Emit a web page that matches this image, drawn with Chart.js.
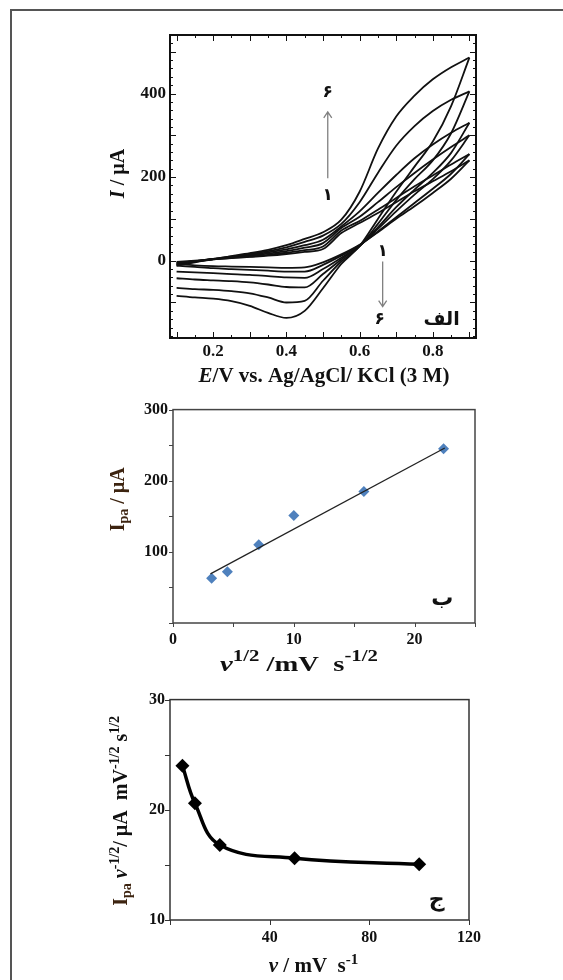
<!DOCTYPE html>
<html>
<head>
<meta charset="utf-8">
<script src="https://cdn.jsdelivr.net/npm/chart.js@4.4.0/dist/chart.umd.min.js"></script>
<style>
  html, body { margin: 0; padding: 0; background: #fff; width: 563px; height: 980px; overflow: hidden; }
  .frame { position: absolute; left: 10px; top: 9px; width: 600px; height: 1000px; border-top: 2px solid #555; border-left: 2px solid #555; }
  canvas { position: absolute; left: 0; }
</style>
</head>
<body>
<div class="frame"></div>
<canvas id="cv" width="563" height="395" style="top:0"></canvas>
<canvas id="lin" width="563" height="290" style="top:395px"></canvas>
<canvas id="norm" width="563" height="295" style="top:685px"></canvas>
<script>
const SERIF = '"Liberation Serif", "Times New Roman", serif';
const ARABIC = '"DejaVu Sans", "Noto Sans", sans-serif';

// الف - cyclic voltammograms 1..6, each branch read on the same potential grid
const potentials = [0.1, 0.15, 0.2, 0.25, 0.3, 0.35, 0.4, 0.45, 0.5, 0.55, 0.6, 0.65, 0.7, 0.75, 0.8, 0.85, 0.9];
const forwardScans = [
  [-3, 0, 3, 6, 9, 12, 16, 21, 28, 66, 90, 114, 140, 166, 190, 214, 240],
  [-5, -1, 3, 7, 10, 14, 19, 25, 34, 72, 95, 122, 150, 178, 204, 230, 255],
  [-6, -1, 4, 8, 12, 17, 23, 31, 42, 78, 105, 140, 176, 210, 242, 272, 300],
  [-8, -2, 4, 9, 14, 20, 27, 37, 50, 82, 118, 162, 205, 245, 278, 306, 330],
  [-10, -3, 4, 10, 16, 23, 32, 45, 60, 88, 140, 210, 275, 322, 358, 385, 405],
  [-12, -4, 4, 11, 18, 26, 37, 52, 68, 98, 165, 268, 345, 395, 434, 463, 486]
];
const reverseScans = [
  [-8, -11, -13, -14, -15, -16, -17, -16, -4, 15, 38, 68, 100, 130, 162, 196, 240],
  [-12, -15, -18, -20, -22, -24, -26, -26, -10, 12, 37, 70, 104, 138, 172, 208, 255],
  [-26, -28, -30, -32, -34, -37, -40, -41, -20, 7, 36, 76, 118, 158, 195, 240, 300],
  [-42, -45, -47, -49, -52, -57, -63, -64, -32, 3, 35, 80, 128, 170, 210, 258, 330],
  [-65, -68, -70, -73, -78, -88, -100, -96, -48, -2, 34, 88, 145, 195, 240, 305, 405],
  [-84, -88, -91, -97, -108, -125, -137, -120, -66, -8, 35, 100, 165, 225, 285, 370, 486]
];
const cvXTicks = [0.2, 0.4, 0.6, 0.8];
const cvYTicks = [0, 200, 400];

// ب - anodic peak current vs square root of scan rate
const sqrtRate = [3.2, 4.5, 7.1, 10, 15.8, 22.4];
const peakCurrent = [63, 72, 110, 151, 185, 245];
const fitX = [3.1, 22.5];
const fitY = [69, 246];
const linXTicks = [0, 10, 20];
const linYTicks = [100, 200, 300];

// ج - normalised current vs scan rate
const scanRate = [5, 10, 20, 50, 100];
const normCurrent = [24, 20.6, 16.8, 15.6, 15.05];
const normXTicks = [40, 80, 120];
const normYTicks = [10, 20, 30];

// texte avec indices / exposants
function drawRich(ctx, title, cx, cy, rotate) {
  const size = title.size;
  ctx.save();
  ctx.translate(cx, cy);
  if (rotate) ctx.rotate(-Math.PI / 2);
  ctx.scale(title.stretch || 1, 1);
  const fontOf = p => (p[1] === 'i' ? 'italic ' : '') + 'bold ' + (p[1] === 'sub' || p[1] === 'sup' ? Math.round(size * 0.72) : size) + 'px ' + SERIF;
  let total = 0;
  const widths = title.parts.map(p => { ctx.font = fontOf(p); const w = ctx.measureText(p[0]).width; total += w; return w; });
  let x = -total / 2;
  ctx.textAlign = 'left';
  ctx.textBaseline = 'alphabetic';
  title.parts.forEach((p, i) => {
    ctx.font = fontOf(p);
    ctx.fillStyle = p[2] || title.color;
    const dy = p[1] === 'sub' ? size * 0.22 : p[1] === 'sup' ? -size * 0.42 : 0;
    ctx.fillText(p[0], x, size * 0.35 + dy);
    x += widths[i];
  });
  ctx.restore();
}

function range(a, b, step) {
  const out = [];
  for (let v = a; v <= b + 1e-9; v += step) out.push(Math.round(v * 1000) / 1000);
  return out;
}

function decor(spec) {
  return {
    id: 'decor',
    afterDatasetsDraw(chart) {
      const { ctx, chartArea: a, scales: { x, y } } = chart;
      ctx.save();
      ctx.strokeStyle = spec.boxColor;
      ctx.lineWidth = 1;
      spec.marks.forEach(t => {
        const sc = t.axis === 'x' ? x : y;
        const sgn = t.out ? 1 : -1;
        t.values.forEach(v => {
          const p = Math.round(sc.getPixelForValue(v)) + 0.5;
          ctx.beginPath();
          if (t.axis === 'x') {
            ctx.moveTo(p, a.bottom); ctx.lineTo(p, a.bottom + sgn * t.len);
            if (t.both) { ctx.moveTo(p, a.top); ctx.lineTo(p, a.top - sgn * t.len); }
          } else {
            ctx.moveTo(a.left, p); ctx.lineTo(a.left - sgn * t.len, p);
            if (t.both) { ctx.moveTo(a.right, p); ctx.lineTo(a.right + sgn * t.len, p); }
          }
          ctx.stroke();
        });
      });
      ctx.lineWidth = spec.boxWidth;
      ctx.strokeRect(a.left, a.top, a.right - a.left, a.bottom - a.top);

      const t = spec.titles;
      drawRich(ctx, t.x, (a.left + a.right) / 2 + t.x.dx, a.bottom + t.x.dy, false);
      drawRich(ctx, t.y, a.left + t.y.dx, (a.top + a.bottom) / 2 + t.y.dy, true);

      (spec.arrows || []).forEach(ar => {
        const px = x.getPixelForValue(ar.x);
        const p1 = y.getPixelForValue(ar.from), p2 = y.getPixelForValue(ar.to);
        const d = p2 < p1 ? 1 : -1;
        ctx.strokeStyle = '#808080';
        ctx.lineWidth = 1.3;
        ctx.beginPath();
        ctx.moveTo(px, p1); ctx.lineTo(px, p2);
        ctx.moveTo(px - 4, p2 + d * 6); ctx.lineTo(px, p2); ctx.lineTo(px + 4, p2 + d * 6);
        ctx.stroke();
      });
      (spec.notes || []).forEach(n => {
        ctx.font = 'bold ' + n.size + 'px ' + ARABIC;
        ctx.fillStyle = '#111';
        ctx.textAlign = 'center';
        ctx.textBaseline = 'middle';
        ctx.fillText(n.text, x.getPixelForValue(n.x), y.getPixelForValue(n.y));
      });
      ctx.restore();
    }
  };
}

function axes(xMin, xMax, yMin, yMax, xTicks, yTicks, yWidth, xHeight, fontSize, yPad, xPad) {
  const tickFont = { family: SERIF, size: fontSize, weight: 'bold' };
  return {
    x: {
      type: 'linear', position: 'bottom', min: xMin, max: xMax,
      grid: { display: false, drawTicks: false }, border: { display: false },
      afterBuildTicks: s => { s.ticks = xTicks.map(v => ({ value: v })); },
      afterFit: s => { s.height = xHeight; },
      ticks: { font: tickFont, color: '#111', padding: xPad, maxRotation: 0, autoSkip: false }
    },
    y: {
      type: 'linear', position: 'left', min: yMin, max: yMax,
      grid: { display: false, drawTicks: false }, border: { display: false },
      afterBuildTicks: s => { s.ticks = yTicks.map(v => ({ value: v })); },
      afterFit: s => { s.width = yWidth; },
      ticks: { font: tickFont, color: '#111', padding: yPad, autoSkip: false }
    }
  };
}

const base = {
  responsive: false,
  animation: false,
  events: [],
  plugins: { legend: { display: false }, tooltip: { enabled: false } }
};

// --- الف
const cvSets = [];
forwardScans.forEach((fwd, k) => {
  [fwd, reverseScans[k]].forEach(branch => {
    cvSets.push({
      data: potentials.map((e, i) => ({ x: e, y: branch[i] })),
      borderColor: '#111', borderWidth: 1.8, pointRadius: 0,
      cubicInterpolationMode: 'monotone', fill: false
    });
  });
});

new Chart(document.getElementById('cv'), {
  type: 'line',
  data: { datasets: cvSets },
  options: Object.assign({}, base, {
    layout: { padding: { top: 35, right: 87, left: 0, bottom: 0 } },
    scales: axes(0.082, 0.918, -185, 540, cvXTicks, cvYTicks, 170, 57, 17, 4, 3)
  }),
  plugins: [decor({
    boxColor: '#111', boxWidth: 2,
    marks: [
      { axis: 'y', values: range(-180, 540, 20), len: 3, both: true },
      { axis: 'y', values: range(-100, 500, 100), len: 6, both: true },
      { axis: 'x', values: range(0.1, 0.9, 0.05), len: 3, both: true },
      { axis: 'x', values: range(0.1, 0.9, 0.1), len: 6, both: true }
    ],
    titles: {
      x: { parts: [['E', 'i'], ['/V vs. Ag/AgCl/ KCl (3 M)', '']], dx: 1, dy: 37, size: 21, color: '#111' },
      y: { parts: [['I', 'i'], [' / µA', '']], dx: -53, dy: -13, size: 20, color: '#111' }
    },
    arrows: [
      { x: 0.513, from: 197, to: 356 },
      { x: 0.663, from: -2, to: -110 }
    ],
    notes: [
      { text: '۶', x: 0.513, y: 402, size: 17 },
      { text: '۱', x: 0.513, y: 155, size: 17 },
      { text: '۱', x: 0.663, y: 22, size: 17 },
      { text: '۶', x: 0.655, y: -142, size: 17 },
      { text: 'الف', x: 0.824, y: -142, size: 19 }
    ]
  })]
});

// --- ب
new Chart(document.getElementById('lin'), {
  type: 'line',
  data: {
    datasets: [
      {
        data: fitX.map((v, i) => ({ x: v, y: fitY[i] })),
        borderColor: '#222', borderWidth: 1.3, pointRadius: 0, fill: false
      },
      {
        data: sqrtRate.map((v, i) => ({ x: v, y: peakCurrent[i] })),
        showLine: false, pointStyle: 'rectRot', pointRadius: 5.5,
        backgroundColor: '#4f81bd', borderColor: '#4f81bd', borderWidth: 0
      }
    ]
  },
  options: Object.assign({}, base, {
    layout: { padding: { top: 10, right: 88, left: 0, bottom: 0 } },
    scales: axes(0, 25, 0, 300, linXTicks, linYTicks, 173, 62, 16, 5, 7)
  }),
  plugins: [decor({
    boxColor: '#444', boxWidth: 1.5,
    marks: [
      { axis: 'y', values: range(0, 300, 50), len: 4, out: true },
      { axis: 'x', values: range(0, 25, 5), len: 4, out: true }
    ],
    titles: {
      x: { parts: [['v', 'i'], ['1/2', 'sup'], [' /mV  s', ''], ['-1/2', 'sup']], dx: -25, dy: 40, size: 22, stretch: 1.3, color: '#111' },
      y: { parts: [['I', ''], ['pa', 'sub'], [' / µA', '']], dx: -56, dy: -17, size: 20, color: '#3d2410' }
    },
    notes: [{ text: 'ب', x: 22.3, y: 34, size: 22 }]
  })]
});

// --- ج
new Chart(document.getElementById('norm'), {
  type: 'line',
  data: {
    datasets: [{
      data: scanRate.map((v, i) => ({ x: v, y: normCurrent[i] })),
      borderColor: '#000', borderWidth: 3.5, tension: 0.4, fill: false,
      pointStyle: 'rectRot', pointRadius: 7, backgroundColor: '#000', pointBorderWidth: 0
    }]
  },
  options: Object.assign({}, base, {
    layout: { padding: { top: 14, right: 94, left: 0, bottom: 0 } },
    scales: axes(0, 120, 10, 30, normXTicks, normYTicks, 170, 60, 16, 5, 8)
  }),
  plugins: [decor({
    boxColor: '#333', boxWidth: 1.5,
    marks: [
      { axis: 'y', values: range(10, 30, 5), len: 5, out: true },
      { axis: 'x', values: range(0, 120, 40), len: 5, out: true }
    ],
    titles: {
      x: { parts: [['v', 'i'], [' / mV  s', ''], ['-1', 'sup']], dx: -6, dy: 45, size: 21, color: '#111' },
      y: { parts: [['I', ''], ['pa', 'sub'], [' ', ''], ['v', 'i', '#111'], ['-1/2', 'sup', '#111'], ['/ µA  mV', '', '#111'], ['-1/2', 'sup', '#111'], [' s', '', '#111'], ['1/2', 'sup', '#111']], dx: -50, dy: 1, size: 20, color: '#3d2410' }
    },
    notes: [{ text: 'ج', x: 107, y: 11.8, size: 22 }]
  })]
});
</script>
</body>
</html>
